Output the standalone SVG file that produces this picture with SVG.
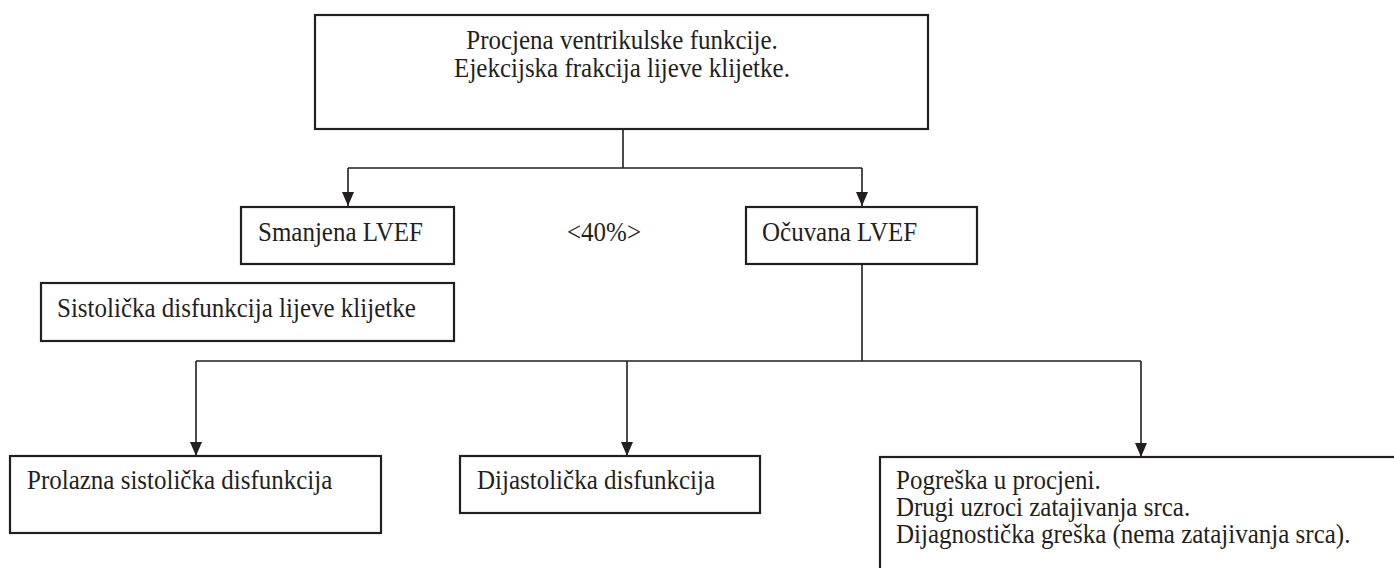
<svg xmlns="http://www.w3.org/2000/svg" width="1394" height="568" viewBox="0 0 1394 568">
  <style>
    .box { fill: #ffffff; stroke: #231f20; stroke-width: 2.2; }
    .lbl { font-family: "Liberation Serif", "Times New Roman", serif; font-size: 25px; fill: #231f20; }
    .mid { text-anchor: middle; }
    .wire { fill: none; stroke: #231f20; stroke-width: 1.6; }
  </style>
  <defs>
    <marker id="arrow" markerUnits="userSpaceOnUse" markerWidth="12" markerHeight="14" refX="6" refY="14" orient="0" viewBox="0 0 12 14">
      <path d="M0,0 L12,0 L6,14 z" fill="#231f20"/>
    </marker>
  </defs>

  <rect width="1394" height="568" fill="#ffffff"/>

  <!-- connectors -->
  <g id="connectors">
    <path class="wire" d="M623,129 V168 M348,168 H862"/>
    <path class="wire" d="M348,168 V206" marker-end="url(#arrow)"/>
    <path class="wire" d="M862,168 V206" marker-end="url(#arrow)"/>
    <path class="wire" d="M862,264 V361 M196,361 H1141"/>
    <path class="wire" d="M196,361 V456" marker-end="url(#arrow)"/>
    <path class="wire" d="M627,361 V456" marker-end="url(#arrow)"/>
    <path class="wire" d="M1141,361 V457" marker-end="url(#arrow)"/>
  </g>

  <!-- labels are set slightly tall: each baseline is placed by translate, then stretched 7% vertically -->
  <g id="assessment">
    <rect class="box" x="315" y="15" width="613" height="114"/>
    <text class="lbl mid" transform="translate(622 49) scale(1 1.07)">Procjena ventrikulske funkcije.</text>
    <text class="lbl mid" transform="translate(622 77) scale(1 1.07)">Ejekcijska frakcija lijeve klijetke.</text>
  </g>

  <g id="reduced">
    <rect class="box" x="241" y="207" width="213" height="57"/>
    <text class="lbl" transform="translate(258 241) scale(1 1.07)">Smanjena LVEF</text>
  </g>

  <g id="threshold">
    <text class="lbl mid" transform="translate(604 241) scale(1 1.07)">&lt;40%&gt;</text>
  </g>

  <g id="preserved">
    <rect class="box" x="746" y="207" width="231" height="57"/>
    <text class="lbl" transform="translate(762 241) scale(1 1.07)">Očuvana LVEF</text>
  </g>

  <g id="systolic">
    <rect class="box" x="41" y="283" width="413" height="58"/>
    <text class="lbl" transform="translate(57 317) scale(1 1.07)">Sistolička disfunkcija lijeve klijetke</text>
  </g>

  <g id="transient">
    <rect class="box" x="10" y="456" width="371" height="77"/>
    <text class="lbl" transform="translate(27 489) scale(1 1.07)">Prolazna sistolička disfunkcija</text>
  </g>

  <g id="diastolic">
    <rect class="box" x="460" y="456" width="300" height="57"/>
    <text class="lbl" transform="translate(477 489) scale(1 1.07)">Dijastolička disfunkcija</text>
  </g>

  <g id="other">
    <rect class="box" x="880" y="457" width="530" height="130"/>
    <text class="lbl" transform="translate(896 489) scale(1 1.07)">Pogreška u procjeni.</text>
    <text class="lbl" transform="translate(896 516) scale(1 1.07)">Drugi uzroci zatajivanja srca.</text>
    <text class="lbl" transform="translate(896 543) scale(1 1.07)">Dijagnostička greška (nema zatajivanja srca).</text>
  </g>
</svg>
